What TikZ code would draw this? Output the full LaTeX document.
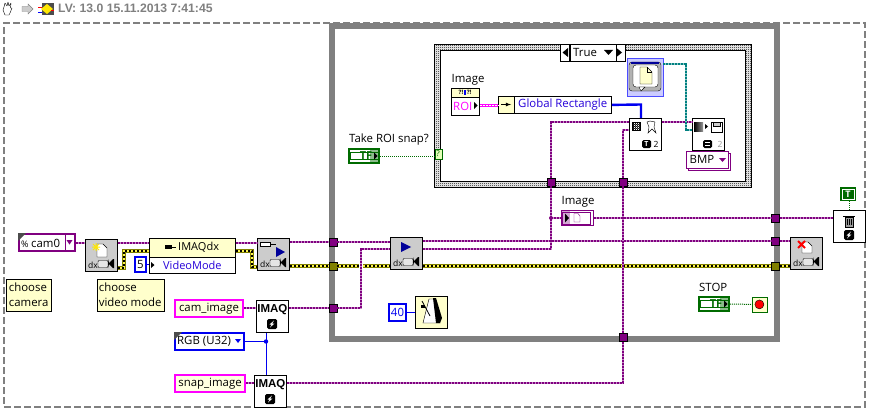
\documentclass[tikz,border=0pt]{standalone}
\usepackage{fontspec}
\setmainfont{Open Sans}
\newfontfamily\barfont{Liberation Sans}
\usetikzlibrary{positioning}
\usetikzlibrary{patterns}
\definecolor{imgpurple}{HTML}{800080}
\definecolor{lvgray}{HTML}{808080}
\definecolor{lvyellow}{HTML}{FFFFCC}
\definecolor{lvgreen}{HTML}{006B00}
\definecolor{lvblue}{HTML}{0000F0}
\definecolor{lvpink}{HTML}{FF00FF}
\definecolor{lvolive}{HTML}{808000}
\definecolor{lvteal}{HTML}{008080}
\pgfdeclarepatternformonly{dither}{\pgfpointorigin}{\pgfqpoint{2pt}{2pt}}{\pgfqpoint{2pt}{2pt}}{
  \pgfpathrectangle{\pgfpointorigin}{\pgfqpoint{1pt}{1pt}}
  \pgfpathrectangle{\pgfqpoint{1pt}{1pt}}{\pgfqpoint{1pt}{1pt}}
  \pgfusepath{fill}
}
\tikzset {
  every node/.style={inner sep=0pt, font=\fontsize{11.4}{14}\selectfont},
  % block diagram frames
  seqframe/.style={draw=lvgray, line width=2pt, dash pattern=on 7pt off 3pt, anchor=north west},
  loopframe/.style={draw=lvgray, line width=6pt, anchor=north west},
  caseouter/.style={draw=black, thick, pattern=dither, anchor=north west},
  caseinner/.style={draw=black, fill=white, anchor=north west},
  % function blocks
  fnbox/.style={draw=black, thick, fill=white, minimum width=32pt, minimum height=32pt, anchor=north west},
  grayfn/.style={fnbox, fill=black!20},
  % constants and terminals
  cnst/.style={draw=#1, line width=2pt, anchor=north west},
  tunnel/.style={draw=black, fill=#1, minimum width=8pt, minimum height=8pt},
  tfbox/.style={draw=lvgreen, line width=2pt, minimum width=30pt, minimum height=14pt, anchor=north west, fill=white},
  note/.style={draw=black, fill=lvyellow, anchor=north west, align=left, inner xsep=2pt, inner ysep=2pt, font=\fontsize{11.4}{15}\selectfont},
  % wires
  imgwire/.style={draw=imgpurple, line width=2pt, dash pattern=on 2pt off 1pt, preaction={draw=imgpurple!45, line width=2pt, solid}},
  sesswire/.style={draw=lvolive, line width=4pt, postaction={draw=yellow!70, line width=2pt}, postaction={draw=black, line width=2pt, dash pattern=on 2pt off 2pt}},
  numwire/.style={draw=lvblue, line width=1pt},
  boolwire/.style={draw=lvgreen, line width=1pt, dash pattern=on 1pt off 1pt},
  rectwire/.style={draw=lvpink, line width=3pt, postaction={draw=white, line width=1pt, dash pattern=on 2pt off 1pt}},
  bluewire/.style={draw=lvblue, line width=2.4pt},
  tealwire/.style={draw=lvteal, line width=2pt, dash pattern=on 2pt off 1pt, preaction={draw=lvteal!45, line width=2pt, solid}},
}
% glyphs, #1 is the block they go in
\newcommand{\camglyph}[1]{
  \begin{scope}[shift={(#1.north west)}]
    \node (#1-dx) at (8,26) {\fontsize{8.5}{9}\selectfont dx};
    \draw[fill=black!10, rounded corners=1pt] (13,21.5) rectangle (23,28.5);
    \fill[black] (23,20) -- (24,24) -- (28,20) -- (29,20) -- (29,29) -- (28,29) -- (24,25) -- (23,29) -- cycle;
  \end{scope}
}
\newcommand{\errglyph}[3]{
  \begin{scope}[shift={(#1.north west)}]
    \fill[black, rounded corners=1.5pt] (#2-5,#3-5) rectangle (#2+5,#3+5);
    \fill[white] (#2+2,#3-3.5) -- (#2-2.5,#3+0.5) -- (#2-0.3,#3+0.5) -- (#2-2,#3+3.5) -- (#2+2.5,#3-0.5) -- (#2+0.3,#3-0.5) -- cycle;
  \end{scope}
}
\newcommand{\tfglyph}[1]{
  \draw[lvgreen] ([xshift=2pt,yshift=3.5pt]#1.west) rectangle ([xshift=-2pt,yshift=-3.5pt]#1.east);
  \node (#1-tf) at ([xshift=2pt]#1.center) {\fontsize{11}{11}\selectfont\bfseries\textcolor{lvgreen}{TF}};
  \fill[lvgreen, opacity=.45] ([xshift=-10pt,yshift=6pt]#1.east) rectangle ([xshift=-1pt,yshift=-6pt]#1.east);
  \fill[black] ([xshift=-6pt,yshift=3.5pt]#1.east) -- ([xshift=-2.5pt]#1.east) -- ([xshift=-6pt,yshift=-3.5pt]#1.east) -- cycle;
}
\begin{document}
\begin{tikzpicture}[x=1pt, y=-1pt]
  \useasboundingbox (0,0) rectangle (870,412);
  \fill[white] (0,0) rectangle (870,412);

  % toolbar
  \draw[black, fill=white, line join=round] (3,10) -- (4,7) -- (5,3) -- (7,6) -- (8,2) -- (9,6) -- (11,3) -- (10.5,8) -- (12,8) -- (10,13) -- (9,15) -- (5,15) -- cycle;
  \draw[lvgray, fill=black!20] (22,6.5) -- (28,6.5) -- (28,4) -- (33,9) -- (28,14) -- (28,11.5) -- (22,11.5) -- cycle;
  \fill[black!70] (42,3) rectangle (54,15);
  \fill[yellow!90!orange] (41,9) -- (47,4) -- (53,9) -- (47,14) -- cycle;
  \draw[red, thick] (38,7) -- (42,7) (51,10) -- (54,10);
  \draw[blue, thick] (38,12) -- (42,12);
  \node[anchor=west] (stamp) at (58,8) {\barfont\bfseries\fontsize{12.2}{13}\selectfont\textcolor{black!50}{LV: 13.0 15.11.2013 7:41:45}};

  % frames
  \node[seqframe, minimum width=861pt, minimum height=384pt] (sequence) at (3,22) {};
  \node[loopframe, minimum width=445pt, minimum height=313pt, fill=white] (loop) at (329,23) {};
  \node[caseouter, minimum width=317pt, minimum height=143pt] (case) at (434,44) {};
  \node[caseinner, minimum width=305pt, minimum height=131pt] (caseroom) at (440,50) {};
  \node[draw=black, fill=white, thick, minimum width=46pt, minimum height=17pt, anchor=north west] (selector) at (569.5,44) {};
  \node[draw=black, fill=white, thick, minimum width=8.5pt, minimum height=17pt, anchor=north east] (selprev) at (selector.north west) {};
  \node[draw=black, fill=white, thick, minimum width=8.5pt, minimum height=17pt, anchor=north west] (selnext) at (selector.north east) {};
  \node[anchor=west] (truecase) at (573,52.5) {True};
  \fill[black] (604,50) -- (613,50) -- (608.5,55) -- cycle;
  \fill[black] (568,48) -- (568,57) -- (562.5,52.5) -- cycle;
  \fill[black] (616.5,48) -- (616.5,57) -- (622,52.5) -- cycle;

  % tunnels
  \node[tunnel=imgpurple] (tunin1) at (333,242) {};
  \node[tunnel=lvolive] (tunin2) at (333,266) {};
  \node[tunnel=imgpurple] (tunin3) at (333,308) {};
  \node[tunnel=imgpurple] (tuncase1) at (551,182) {};
  \node[tunnel=imgpurple] (tuncase2) at (623,182) {};
  \node[tunnel=imgpurple] (tunout1) at (775.5,218) {};
  \node[tunnel=imgpurple] (tunout2) at (775.5,241) {};
  \node[tunnel=lvolive] (tunout3) at (775.5,266) {};
  \node[tunnel=imgpurple] (tunbot) at (623,337.5) {};

  % left part
  \node[cnst=imgpurple, minimum width=56pt, minimum height=17pt, fill=white] (cam) at (18,233) {};
  \node[anchor=west] (camtext) at (31,243) {cam0};
  \node[anchor=west] (campct) at (21,244) {\fontsize{9}{9}\selectfont\%};
  \draw[imgpurple, thick] (65,234) -- (65,251);
  \fill[imgpurple] (66.5,240) -- (72.5,240) -- (69.5,244.5) -- cycle;
  \fill[black!70] (18,233) -- (26,233) -- (18,241) -- cycle;
  \node[grayfn] (open) at (85,239) {};
  \camglyph{open}
  \begin{scope}[shift={(open.north west)}]
    \draw[fill=white] (12,5) -- (18,5) -- (22,9) -- (22,18) -- (12,18) -- cycle;
    \draw[yellow!90!orange, line width=1pt] (7,8) -- (15,8) (11,4) -- (11,12) (8,5) -- (14,11) (14,5) -- (8,11);
  \end{scope}
  \node[draw=black, thick, fill=white, minimum width=86pt, minimum height=35pt, anchor=north west] (prop) at (149,238) {};
  \fill[lvyellow] (prop.north west) rectangle ([yshift=-19pt]prop.north east);
  \draw[thick] (prop.north west) rectangle (prop.south east);
  \draw[thick] (149,257) -- (235,257);
  \node[anchor=west] (propname) at (178,247) {\fontsize{11}{12}\selectfont IMAQdx};
  \node[anchor=west] (propitem) at (163,265) {\fontsize{11}{12}\selectfont\textcolor{blue!70!violet}{VideoMode}};
  \fill[black] (151,262) -- (154.5,265) -- (151,268) -- cycle;
  \draw[black, fill=black] (165,245.5) rectangle (171,248.5);
  \draw[black, thick] (171,247) -- (176,247);
  \node[cnst=lvblue, minimum width=11pt, minimum height=15pt, fill=white] (five) at (134,256) {5};
  \node[grayfn] (config) at (257,238) {};
  \camglyph{config}
  \begin{scope}[shift={(config.north west)}]
    \draw[fill=white] (3,4) rectangle (13,8);
    \draw (13,6) -- (19,6);
    \fill[blue!60!black] (19,9) -- (28,14) -- (19,19) -- cycle;
  \end{scope}
  \node[note, minimum width=45pt, minimum height=32pt] (notecam) at (6,279) {choose\\camera};
  \node[note, minimum width=67pt, minimum height=32pt] (notemode) at (96.5,279) {choose\\video mode};

  \node[cnst=lvpink, fill=lvyellow!60, minimum width=68pt, minimum height=17pt] (camimg) at (174,299) {cam\_image};
  \node[fnbox] (imaqcam) at (256,300) {};
  \node[anchor=north] (imaqcamt) at ([yshift=-4pt]imaqcam.north) {\barfont\bfseries\fontsize{11.5}{12}\selectfont IMAQ};
  \errglyph{imaqcam}{16}{24}
  \node[cnst=lvblue, minimum width=69pt, minimum height=17pt, fill=white] (rgb) at (174,332) {};
  \node[anchor=west] (rgbtext) at (177,341.5) {RGB (U32)};
  \fill[lvblue] (235,339) -- (241,339) -- (238,343) -- cycle;
  \fill[black!70] (174,332) -- (182,332) -- (174,340) -- cycle;
  \node[cnst=lvpink, fill=lvyellow!60, minimum width=70pt, minimum height=17pt] (snapimg) at (174,374) {snap\_image};
  \node[fnbox] (imaqsnap) at (254,375) {};
  \node[anchor=north] (imaqsnapt) at ([yshift=-4pt]imaqsnap.north) {\barfont\bfseries\fontsize{11.5}{12}\selectfont IMAQ};
  \errglyph{imaqsnap}{16}{24}

  % inside the loop
  \node[anchor=west] (takelabel) at (349,140) {Take ROI snap?};
  \node[tfbox] (takeroi) at (348,148) {};
  \tfglyph{takeroi}
  \node[draw=lvgreen, fill=green!10!lvyellow, minimum width=7pt, minimum height=10pt, anchor=north west] (seltest) at (434.5,148.5) {\fontsize{8}{8}\selectfont\textcolor{lvgreen}{?}};
  \node[grayfn] (start) at (390,237) {};
  \camglyph{start}
  \fill[blue!60!black] (401,242) -- (411,247) -- (401,252) -- cycle;
  \node[cnst=lvblue, minimum width=17pt, minimum height=17pt, fill=white] (wait) at (388,303) {\textcolor{lvblue}{40}};
  \node[fnbox, fill=lvyellow] (metro) at (415,296) {};
  \begin{scope}[shift={(metro.north west)}]
    \draw[fill=white] (14,3) -- (20,3) -- (25,27) -- (8,27) -- cycle;
    \fill[black] (18,2) -- (21,2) -- (27,22) -- (25,27) -- (21,27) -- cycle;
    \draw[thick] (7,5) -- (15,20);
    \fill[black] (6,9) rectangle (10,12);
  \end{scope}
  \node[anchor=west] (imglabel) at (561.5,201.5) {Image};
  \node[draw=imgpurple, line width=1pt, fill=white, minimum width=32pt, minimum height=15pt, anchor=north west] (imgview) at (561,210) {};
  \fill[imgpurple!35] (561.7,211) rectangle (570,225);
  \draw[imgpurple] (561.7,212) rectangle (590,224);
  \fill[black] (565,213.5) -- (569,218) -- (565,222.5) -- cycle;
  \draw[imgpurple, fill=white] (574,213.5) -- (578,213.5) -- (580,216) -- (580,222) -- (574,222) -- cycle;
  \node[anchor=west] (stoplabel) at (699,287) {STOP};
  \node[tfbox] (stopctl) at (698,296) {};
  \tfglyph{stopctl}
  \node[draw=lvgreen, thick, fill=lvyellow, minimum width=15pt, minimum height=15pt, anchor=north west] (stopterm) at (751.5,296.5) {};
  \draw[black, fill=red] (stopterm.center) circle (4.5pt);
  \node[grayfn] (close) at (790,237) {};
  \camglyph{close}
  \begin{scope}[shift={(close.north west)}]
    \draw[fill=white] (12,5) -- (18,5) -- (22,9) -- (22,16) -- (12,16) -- cycle;
    \draw[red, line width=2pt] (8,4) -- (15,11) (15,4) -- (8,11);
  \end{scope}
  \node[fnbox] (dispose) at (833,210) {};
  \begin{scope}[shift={(dispose.north west)}]
    \draw[fill=black!40] (12,7) rectangle (20,17);
    \draw[thick] (10,6) -- (22,6);
    \draw (14,9) -- (14,15) (16,9) -- (16,15) (18,9) -- (18,15);
  \end{scope}
  \errglyph{dispose}{16}{25}
  \node[draw=lvgreen, line width=2pt, fill=lvgreen, minimum width=14pt, minimum height=12pt, anchor=north west] (allimg) at (840,187) {};
  \draw[white] ([xshift=2pt,yshift=-2pt]allimg.north west) rectangle ([xshift=-2pt,yshift=2pt]allimg.south east);
  \node (allimgt) at (allimg.center) {\fontsize{9}{9}\selectfont\bfseries\textcolor{white}{T}};

  % inside the case
  \node[anchor=west] (roilabel) at (451.5,80) {Image};
  \node[fnbox, minimum width=28pt, minimum height=27pt] (roiprop) at (451,88) {};
  \fill[lvyellow] (451.5,88.5) rectangle (478.5,97);
  \draw[thick] (451,97) -- (479,97);
  \node (roierr) at (465,92.5) {\fontsize{6}{6}\selectfont\bfseries ?!\,\textcolor{lvblue}{\rule{1.5pt}{5pt}}\,?!};
  \node[anchor=west] (roiname) at (453,106) {\textcolor{lvpink}{ROI}};
  \fill[black] (474,102) -- (477.5,105.5) -- (474,109) -- cycle;
  \node[draw=black, thick, fill=white, minimum width=113pt, minimum height=17pt, anchor=north west] (unbundle) at (498,96) {};
  \fill[lvyellow] (498.5,96.5) rectangle (514,112.5);
  \draw[thick] (514,96) -- (514,113);
  \draw[-latex, thick] (501,104.5) -- (511,104.5);
  \node[anchor=west] (rectname) at (518,104.5) {\textcolor{blue!70!violet}{Global Rectangle}};
  \node[draw=blue!70, fill=blue!20, minimum width=36pt, minimum height=38pt, anchor=north west] (dialog) at (627,58) {};
  \begin{scope}[shift={(dialog.north west)}]
    \draw[fill=black!30, rounded corners=3pt] (2,4) rectangle (34,33);
    \fill[blue!60!black] (4,4) rectangle (32,6);
    \draw[fill=white, rounded corners=3pt] (6,7) rectangle (31,29);
    \draw[fill=lvyellow] (13,9) -- (20,9) -- (25,14) -- (25,26) -- (13,26) -- cycle;
    \draw (20,9) -- (20,14) -- (25,14);
    \draw[fill=white] (12,29) -- (14,33) -- (18,29) -- cycle;
  \end{scope}
  \node[fnbox] (setroi) at (629,118) {};
  \begin{scope}[shift={(setroi.north west)}]
    \fill[black] (3,4) rectangle (12,13);
    \fill[white, pattern=dither, pattern color=white] (4.5,5.5) rectangle (10.5,11.5);
    \draw[fill=white] (18,4) -- (21,3) -- (26,4) -- (25,9) -- (27,15) -- (23,11) -- (19,15) -- (20,9) -- cycle;
    \fill[black, rounded corners=1.5pt] (13,22) rectangle (22,30);
    \node (setroi-t) at (17.5,26) {\fontsize{7}{7}\selectfont\bfseries\textcolor{white}{T}};
    \node (setroi-two) at (27,26) {\fontsize{8.5}{9}\selectfont 2};
  \end{scope}
  \node[fnbox] (savebmp) at (692,118) {};
  \begin{scope}[shift={(savebmp.north west)}]
    \shade[left color=black, right color=black!40] (2,4) rectangle (11,13);
    \fill[black] (13,6) -- (16,8.5) -- (13,11) -- cycle;
    \draw[fill=white] (19,4) rectangle (30,14);
    \draw[fill=black!20] (21,4) rectangle (28,8);
    \fill[black, rounded corners=1.5pt] (11,22) rectangle (20,30);
    \draw[white] (13,24.5) -- (18,24.5) (13,27.5) -- (18,27.5);
    \node (savebmp-two) at (28,26) {\fontsize{8.5}{9}\selectfont\textcolor{black!40}{2}};
  \end{scope}
  \node[draw=imgpurple, fill=white, minimum width=42pt, minimum height=17pt, anchor=north west] (bmpshadow) at (688,153) {};
  \node[draw=imgpurple, fill=white, minimum width=42pt, minimum height=17pt, anchor=north west] (bmp) at (686,151) {};
  \node[anchor=west] (bmptext) at (689.5,159.5) {BMP};
  \fill[imgpurple] (719,158) -- (726,158) -- (722.5,162) -- cycle;

  % wires
  \draw[imgwire] (cam.east |- 0,243) -- (open.west |- 0,243);
  \draw[imgwire] (open.east |- 0,243) -- (prop.west |- 0,243);
  \draw[sesswire] (open.east |- 0,268) -- (124,268) -- (124,251) -- (prop.west |- 0,251);
  \draw[numwire] (five.east) -- (prop.west |- five.east);
  \draw[imgwire] (prop.east |- 0,243) -- (config.west |- 0,243);
  \draw[sesswire] (prop.east |- 0,251) -- (252,251) -- (252,267) -- (config.west |- 0,267);
  \draw[imgwire] (config.east |- 0,242) -- (tunin1.west);
  \draw[sesswire] (config.east |- 0,266) -- (tunin2.west);
  \draw[imgwire] (camimg.east |- 0,308) -- (imaqcam.west |- 0,308);
  \draw[imgwire] (imaqcam.east |- 0,308) -- (tunin3.west);
  \draw[numwire] (rgb.east) -- (266,341.5);
  \draw[numwire] (imaqcam.south -| 266,0) -- (imaqsnap.north -| 266,0);
  \fill[lvblue] (266,341.5) circle (2.2pt);
  \draw[imgwire] (snapimg.east |- 0,383) -- (imaqsnap.west |- 0,383);
  \draw[imgwire] (imaqsnap.east |- 0,383) -- (623,383) -- (tunbot.south);
  \draw[imgwire] (tunin1.east) -- (start.west |- tunin1.east);
  \draw[sesswire] (tunin2.east) -- (start.west |- tunin2.east);
  \draw[white, line width=4pt] (361,262) -- (361,270);
  \draw[imgwire] (tunin3.east) -- (361,308) -- (361,249) -- (start.west |- 0,249);
  \draw[imgwire] (start.east |- tunout2.west) -- (tunout2.west);
  \draw[imgwire] (start.east |- 0,249) -- (551,249) -- (tuncase1.south);
  \draw[sesswire] (start.east |- tunout3.west) -- (tunout3.west);
  \draw[imgwire] (551,218) -- (imgview.west);
  \fill[imgpurple] (551,218) circle (2pt);
  \draw[imgwire] (imgview.east) -- (tunout1.west);
  \draw[imgwire] (tunout1.east) -- (dispose.west |- tunout1.east);
  \draw[imgwire] (tunout2.east) -- (close.west |- tunout2.east);
  \draw[sesswire] (tunout3.east) -- (close.west |- tunout3.east);
  \draw[imgwire] (tunbot.north) -- (tuncase2.south);
  \draw[imgwire] (tuncase2.north) -- (623,130) -- (setroi.west |- 0,130);
  \draw[imgwire] (tuncase1.north) -- (551,122) -- (setroi.west |- 0,122);
  \draw[imgwire] (setroi.east |- 0,122) -- (savebmp.west |- 0,122);
  \draw[tealwire] (dialog.east |- 0,64) -- (686,64) -- (686,130) -- (savebmp.west |- 0,130);
  \draw[bluewire] (unbundle.east) -- (641,104.5) -- (setroi.north -| 641,0);
  \draw[rectwire] (roiprop.east |- 0,105) -- (unbundle.west |- 0,105);
  \draw[numwire] (wait.east) -- (metro.west |- wait.east);
  \draw[boolwire] (takeroi.east) -- (seltest.west |- takeroi.east);
  \draw[boolwire] (stopctl.east) -- (stopterm.west);
  \draw[boolwire] (allimg.south -| dispose.north) -- (dispose.north);
\end{tikzpicture}
\end{document}
